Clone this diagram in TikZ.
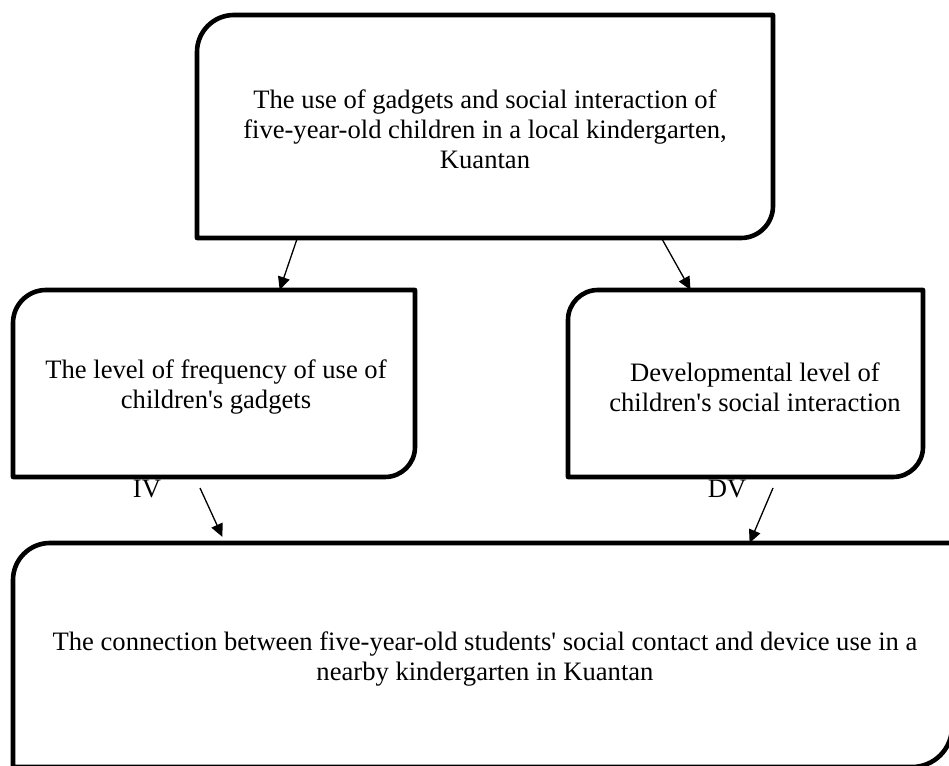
\documentclass[tikz,border=0pt]{standalone}
\usepackage{fontspec}
\setmainfont{Liberation Serif}
\usetikzlibrary{arrows.meta}
\newcommand{\sq}{\textquotesingle}
\tikzset{
  boxline/.style={line width=4.6pt, draw=black, fill=white, line join=round},
  boxtext/.style={align=center, inner sep=0pt, font=\fontsize{26.6}{29.8}\selectfont},
  conn/.style={line width=1.3pt, -{Triangle[length=13pt,width=12pt]}, shorten >=-1pt},
  vlabel/.style={inner sep=0pt, anchor=base, font=\fontsize{26.6}{29.8}\selectfont}
}
\begin{document}
\begin{tikzpicture}[x=1pt,y=1pt]
\useasboundingbox (0,0) rectangle (949,765);
\clip (0,0) rectangle (949,765);
% labels (drawn first, box borders overlap them slightly)
\node[vlabel] (iv) at (147,267) {IV};
\node[vlabel] (dv) at (727,267) {DV};
% top box
\draw[boxline] (197,527) -- (197,713) arc[start angle=180,end angle=90,radius=37] -- (773,750) -- (773,559) arc[start angle=0,end angle=-90,radius=32] -- cycle;
\node[boxtext] (top) at (485,636) {The use of gadgets and social interaction of\\five-year-old children in a local kindergarten,\\Kuantan};
% left box
\draw[boxline] (13,288) -- (13,442) arc[start angle=180,end angle=90,radius=33] -- (415,475) -- (415,318) arc[start angle=0,end angle=-90,radius=30] -- cycle;
\node[boxtext] (iv box) at (216,378) {The level of frequency of use of\\children\sq s gadgets};
% right box
\draw[boxline] (568,288) -- (568,445) arc[start angle=180,end angle=90,radius=30] -- (923,475) -- (923,318) arc[start angle=0,end angle=-90,radius=30] -- cycle;
\node[boxtext] (dv box) at (755,378) {Developmental level of\\children\sq s social interaction};
% bottom box
\draw[boxline] (13,-2) -- (13,185) arc[start angle=180,end angle=90,radius=37] -- (952,222) -- (952,38) arc[start angle=0,end angle=-90,radius=40] -- cycle;
\node[boxtext] (result) at (485,106) {The connection between five-year-old students\sq\ social contact and device use in a\\nearby kindergarten in Kuantan};
% connector endpoints
\coordinate (a1s) at (297,526);
\coordinate (a1e) at (280,476);
\coordinate (a2s) at (662,526);
\coordinate (a2e) at (690,476);
\coordinate (a3s) at (200,277);
\coordinate (a3e) at (222,229);
\coordinate (a4s) at (773,277);
\coordinate (a4e) at (750,223);
\draw[conn] (a1s) -- (a1e);
\draw[conn] (a2s) -- (a2e);
\draw[conn] (a3s) -- (a3e);
\draw[conn] (a4s) -- (a4e);
\end{tikzpicture}
\end{document}
